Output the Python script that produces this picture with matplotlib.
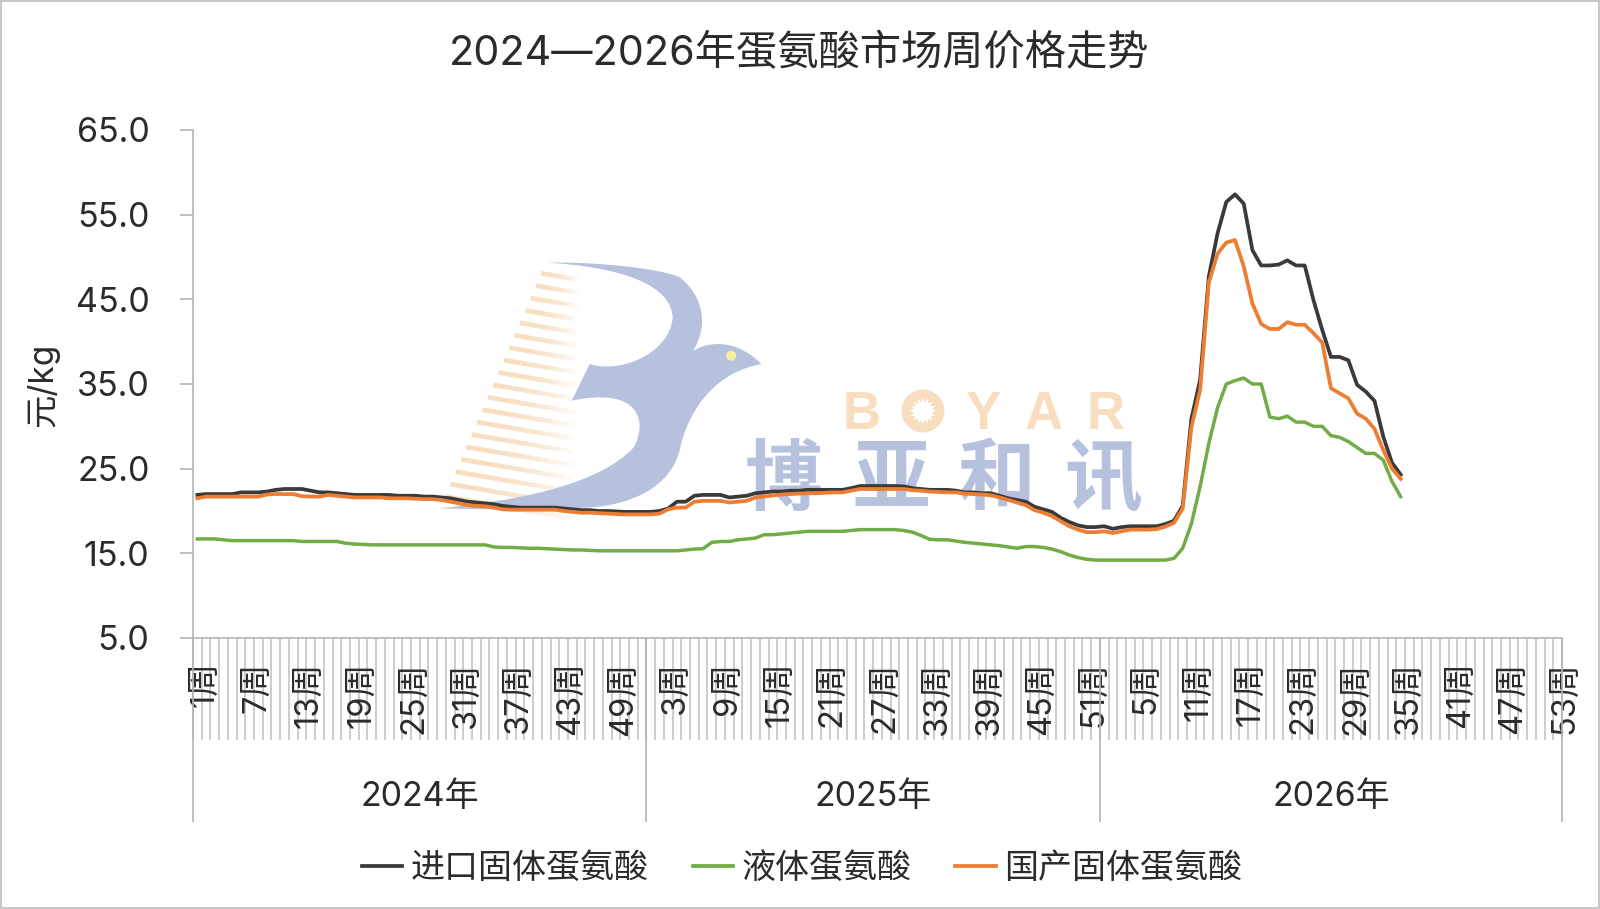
import matplotlib
matplotlib.use("Agg")
import matplotlib.pyplot as plt
import numpy as np
from matplotlib.patches import PathPatch, Circle, Rectangle
from matplotlib.path import Path
from matplotlib.transforms import ScaledTranslation, Affine2D
from matplotlib.lines import Line2D

plt.rcParams['font.family'] = ['Inter', 'Noto Sans CJK SC', 'DejaVu Sans']

title = "2024—2026年蛋氨酸市场周价格走势"
ylabel = "元/kg"
years = ["2024年", "2025年", "2026年"]
weeks_in_year = [52, 52, 53]
yticks = [5, 15, 25, 35, 45, 55, 65]
series_names = ["进口固体蛋氨酸", "液体蛋氨酸", "国产固体蛋氨酸"]

imported_2024 = [21.9,22.0,22.0,22.0,22.0,22.2,22.2,22.2,22.3,22.5,22.6,22.6,22.6,22.4,22.2,22.2,22.1,22.0,21.9,21.9,
                 21.9,21.9,21.9,21.8,21.8,21.8,21.7,21.7,21.6,21.5,21.3,21.1,21.0,20.9,20.8,20.6,20.5,20.4,20.4,20.4,
                 20.4,20.4,20.3,20.2,20.1,20.1,20.0,20.0,19.95,19.9,19.9,19.9]
imported_2025 = [19.9,20.0,20.3,21.1,21.1,21.8,21.9,21.9,21.9,21.6,21.7,21.8,22.1,22.2,22.3,22.3,22.4,22.4,22.5,22.5,
                 22.5,22.5,22.5,22.7,22.95,22.95,22.95,22.95,22.95,22.9,22.7,22.6,22.5,22.5,22.5,22.4,22.2,22.2,22.1,22.1,
                 21.8,21.5,21.3,21.1,20.5,20.2,19.9,19.2,18.7,18.3,18.1,18.1]
imported_2026 = [18.2,17.9,18.1,18.2,18.2,18.2,18.2,18.45,18.85,20.6,30.9,35.5,47.7,52.8,56.5,57.4,56.3,50.8,49.0,49.0,
                 49.1,49.6,49.0,49.0,44.9,41.4,38.2,38.2,37.8,34.9,34.1,33.0,28.8,25.7,24.3]

liquid_2024 = [16.7,16.7,16.7,16.6,16.5,16.5,16.5,16.5,16.5,16.5,16.5,16.5,16.4,16.4,16.4,16.4,16.4,16.2,16.1,16.05,
               16.0,16.0,16.0,16.0,16.0,16.0,16.0,16.0,16.0,16.0,16.0,16.0,16.0,16.0,15.75,15.7,15.7,15.65,15.6,15.6,
               15.55,15.5,15.45,15.4,15.4,15.35,15.3,15.3,15.3,15.3,15.3,15.3]
liquid_2025 = [15.3,15.3,15.3,15.3,15.4,15.5,15.55,16.3,16.4,16.4,16.6,16.7,16.8,17.2,17.2,17.3,17.4,17.5,17.6,17.6,
               17.6,17.6,17.6,17.7,17.8,17.8,17.8,17.8,17.8,17.7,17.5,17.1,16.65,16.6,16.6,16.45,16.3,16.2,16.1,16.0,
               15.9,15.75,15.6,15.8,15.8,15.7,15.5,15.2,14.8,14.5,14.3,14.2]
liquid_2026 = [14.2,14.2,14.2,14.2,14.2,14.2,14.2,14.2,14.4,15.6,18.5,22.9,28.0,32.2,35.0,35.4,35.7,35.0,35.0,31.1,
               30.9,31.2,30.5,30.5,30.0,30.0,28.9,28.7,28.2,27.5,26.8,26.8,26.0,23.5,21.7]

domestic_2024 = [21.5,21.7,21.7,21.7,21.7,21.7,21.7,21.7,21.95,22.0,22.0,22.0,21.75,21.7,21.7,21.9,21.8,21.7,21.6,21.6,
                 21.6,21.6,21.5,21.5,21.5,21.45,21.4,21.4,21.3,21.1,20.9,20.7,20.6,20.55,20.4,20.2,20.15,20.15,20.15,20.15,
                 20.15,20.15,20.0,19.9,19.8,19.8,19.75,19.7,19.65,19.6,19.6,19.6]
domestic_2025 = [19.6,19.7,20.2,20.4,20.4,21.1,21.2,21.2,21.2,21.0,21.1,21.2,21.6,21.7,21.85,21.95,22.0,22.05,22.1,22.1,
                 22.15,22.2,22.2,22.4,22.6,22.6,22.6,22.6,22.6,22.6,22.45,22.4,22.3,22.25,22.2,22.2,22.05,22.0,21.95,21.85,
                 21.6,21.3,21.0,20.7,20.1,19.8,19.4,18.8,18.2,17.8,17.5,17.5]
domestic_2026 = [17.6,17.4,17.6,17.8,17.8,17.8,17.85,18.15,18.6,20.3,29.9,34.3,47.0,50.4,51.7,52.0,48.9,44.5,42.1,41.5,
                 41.5,42.3,42.0,42.0,41.0,39.9,34.5,33.9,33.3,31.5,30.9,29.7,27.2,25.0,23.8]

W, H = 1600, 909
TEXT = "#2B2B2B"
AXIS = "#B4B4B4"
BLUE = "#B6C2DD"
PEACH = "#F8DDBE"

fig = plt.figure(figsize=(W / 100, H / 100), dpi=100, facecolor="white")

# ---- background layer: frame and watermark, in pixel coordinates ----
bg = fig.add_axes([0, 0, 1, 1], zorder=0)
bg.set_xlim(0, W)
bg.set_ylim(H, 0)
bg.axis("off")
bg.add_patch(Rectangle((1, 1), W - 2, H - 2, fill=False, ec="#BDBDBD", lw=1.2))


def z(px, py):
    return 420 + px / 2.24, 240 + py / 3


M, C = Path.MOVETO, Path.CURVE4
L = Path.LINETO
bird = [
    (M, (285, 68)),
    (C, (400, 65)), (C, (530, 85)), (C, (580, 110)),
    (C, (630, 160)), (C, (650, 250)), (C, (612, 332)),
    (C, (660, 295)), (C, (720, 310)), (C, (765, 372)),
    (C, (670, 395)), (C, (610, 490)), (C, (585, 610)),
    (C, (575, 700)), (C, (520, 780)), (C, (400, 800)),
    (C, (300, 812)), (C, (150, 808)), (C, (40, 805)),
    (C, (200, 785)), (C, (400, 740)), (C, (480, 620)),
    (C, (510, 540)), (C, (490, 440)), (C, (340, 482)),
    (L, (380, 372)),
    (C, (440, 400)), (C, (555, 350)), (C, (566, 235)),
    (C, (565, 130)), (C, (440, 80)), (C, (285, 68)),
]
codes = [c for c, _ in bird]
verts = [z(*p) for _, p in bird]
bg.add_patch(PathPatch(Path(verts, codes), fc=BLUE, ec="none", zorder=2))
ex, ey = z(697, 347)
bg.add_patch(Circle((ex, ey), 5, fc="#F4EFA0", ec="none", zorder=3))

# feather stripes fading to the right
for k in range(19):
    x0, y0 = z(272 - 12 * k, 100 + 37.2 * k)
    x1 = z(362, 0)[0]
    xs = np.linspace(x0, x1, 15)
    ys = y0 + (xs - x0) * 0.17
    for j in range(14):
        bg.plot(xs[j:j + 2], ys[j:j + 2], color=PEACH, lw=3.4,
                alpha=1 - (j / 13) ** 2, solid_capstyle="butt", zorder=1)

# BOYAR
for ch, cx in [("B", 861), ("Y", 983), ("A", 1044), ("R", 1106)]:
    bg.text(cx, 415, ch, color=PEACH, fontsize=38, ha="center", va="center",
            family=["Liberation Sans"], fontweight="bold", zorder=2)
sx, sy = 923, 411
bg.add_patch(Circle((sx, sy), 21.5, fc=PEACH, ec="none", zorder=2))
star = Path.unit_regular_star(16, innerCircle=0.7)
bg.add_patch(PathPatch(star.transformed(Affine2D().scale(13).translate(sx, sy)),
                       fc="white", ec="none", zorder=3))

# 博亚和讯
for ch, cx in zip("博亚和讯", [784, 891, 996, 1103]):
    bg.text(cx, 483, ch, color=BLUE, fontsize=56, fontweight="bold", ha="center",
            va="center", zorder=2)

# ---- main chart ----
left, right, top, bottom = 193, 1562, 130, 638
ax = fig.add_axes([left / W, 1 - bottom / H, (right - left) / W, (bottom - top) / H], zorder=1)
ax.patch.set_alpha(0)

imported = imported_2024 + imported_2025 + imported_2026
liquid = liquid_2024 + liquid_2025 + liquid_2026
domestic = domestic_2024 + domestic_2025 + domestic_2026
total = sum(weeks_in_year)

week_labels = [f"{w}周" for n in weeks_in_year for w in range(1, n + 1)]
x = np.arange(len(imported)) + 0.5

line_w = 2.7
ax.plot(x, imported, color="#3A3A3A", lw=line_w, solid_joinstyle="round")
ax.plot(x, liquid, color="#70AD47", lw=line_w - 0.2, solid_joinstyle="round")
ax.plot(x, domestic, color="#ED7D31", lw=line_w, solid_joinstyle="round")

ax.set_xlim(0, total)
ax.set_ylim(5, 65)
for s in ("top", "right"):
    ax.spines[s].set_visible(False)
for s in ("left", "bottom"):
    ax.spines[s].set_color(AXIS)
    ax.spines[s].set_linewidth(1.2)

ax.set_yticks(yticks, [f"{v:.1f}" for v in yticks])
ax.tick_params(axis="y", length=9.4, width=1.2, color=AXIS, pad=22, labelsize=24.5, labelcolor=TEXT)

ax.set_xticks(np.arange(total + 1))
ax.set_xticklabels([])
ax.tick_params(axis="x", which="major", length=73.4, width=1.2, color="#C4C4C4")
label_idx = np.arange(0, total, 6)
ax.set_xticks(label_idx + 0.5, [week_labels[i] for i in label_idx], minor=True)
ax.tick_params(axis="x", which="minor", length=0, pad=17, labelsize=23.5, labelcolor=TEXT, labelrotation=90)
offset = ScaledTranslation(7 / 100, 0, fig.dpi_scale_trans)
for lab in ax.get_xticklabels(minor=True):
    lab.set_transform(lab.get_transform() + offset)
    lab.set_ha("center")
    lab.set_va("top")

# year level of the category axis
h = bottom - top
edges = np.cumsum([0] + weeks_in_year)
tr = ax.get_xaxis_transform()
ax.vlines(edges, -(822 - bottom) / h, 0, transform=tr, color=AXIS, lw=1.2, clip_on=False)
for name, a, b in zip(years, edges[:-1], edges[1:]):
    ax.text((a + b) / 2, -(797 - bottom) / h, name, transform=tr, ha="center", va="center",
            fontsize=24.5, color=TEXT)

fig.text(799.5 / W, 1 - 53 / H, title, ha="center", va="center", fontsize=29.7, color=TEXT)
fig.text(43 / W, 1 - 385 / H, ylabel, rotation=90, ha="center", va="center", fontsize=24, color=TEXT)

handles = [Line2D([], [], color=c, lw=line_w) for c in ("#3A3A3A", "#70AD47", "#ED7D31")]
fig.legend(handles, series_names, ncol=3, loc="center", bbox_to_anchor=(802 / W, 1 - 869 / H),
           frameon=False, fontsize=24.5, labelcolor=TEXT, handlelength=1.18, handletextpad=0.24,
           columnspacing=1.3, borderpad=0, borderaxespad=0)

fig.savefig("out.png", dpi=100)
